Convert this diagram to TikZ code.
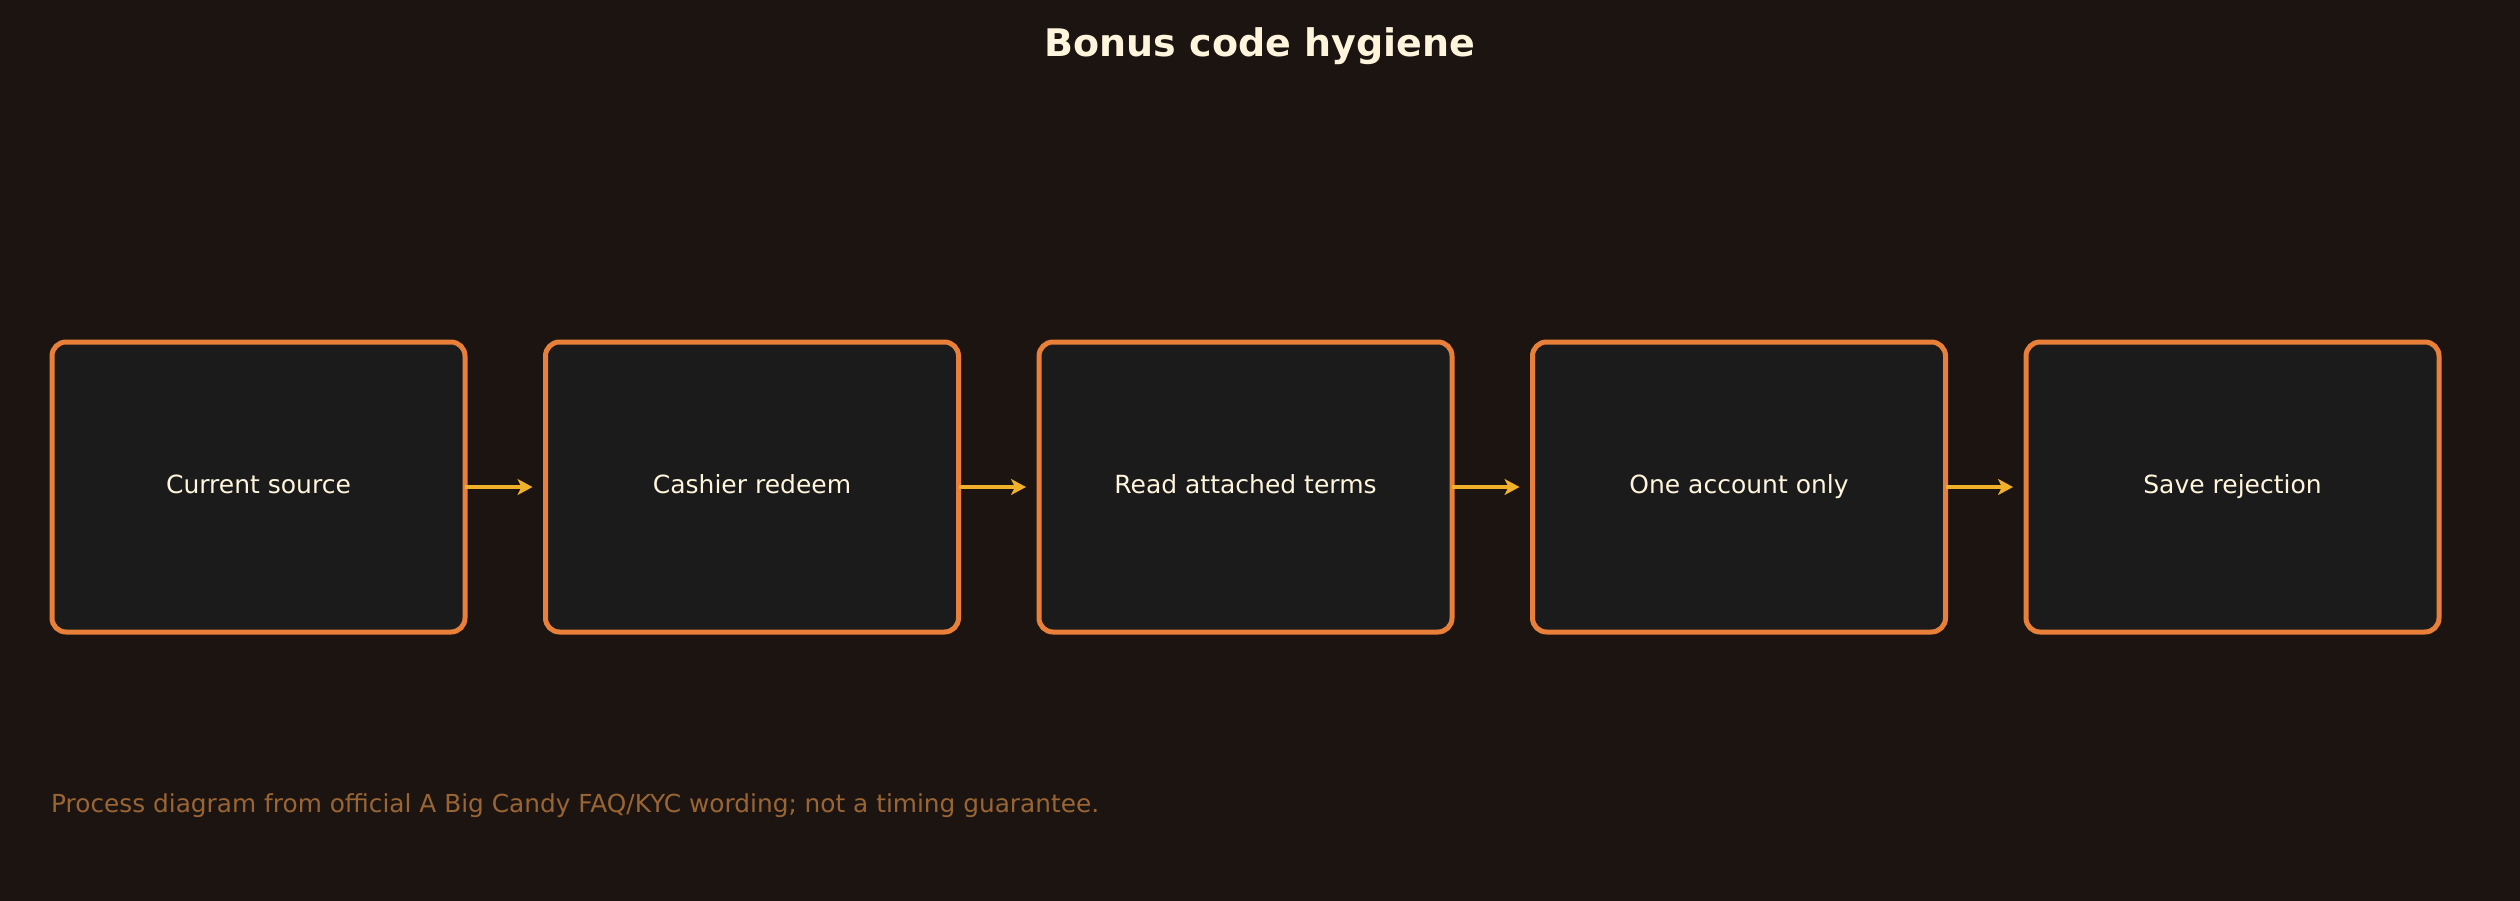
\documentclass[tikz,border=0pt]{standalone}
\usepackage{fontspec}
\setmainfont{DejaVu Sans}
\usetikzlibrary{arrows.meta,positioning}
\definecolor{bgbrown}{RGB}{28,20,16}
\definecolor{boxfill}{RGB}{27,27,27}
\definecolor{boxline}{RGB}{232,128,58}
\definecolor{arrowgold}{RGB}{240,176,42}
\definecolor{cream}{RGB}{255,245,220}
\definecolor{notebrown}{RGB}{154,101,53}

\begin{document}
\begin{tikzpicture}[x=1pt,y=-1pt,>={Stealth[length=15pt,width=16pt,inset=4pt]},
    stepbox/.style={draw=boxline,fill=boxfill,line width=5pt,rounded corners=14pt,
        minimum width=413pt,minimum height=290pt,outer sep=0pt,text=cream,
        text height=18pt,text depth=5pt,font=\fontsize{25}{30}\selectfont},
    flow/.style={->,draw=arrowgold,line width=4.5pt,shorten >=13pt},
    node distance=80.5pt]
            \useasboundingbox (0,0) rectangle (2520,900);
            \fill[bgbrown] (-10,-10) rectangle (2530,910);
            % Title
            \node[text=cream,font=\fontsize{38}{45}\selectfont\bfseries] (title) at (1260,46) {Bonus code hygiene};
            % Nodes
            \node[stepbox] (source) at (258.5,487) {Current source};
            \node[stepbox,right=of source] (cashier) {Cashier redeem};
            \node[stepbox,right=of cashier] (terms) {Read attached terms};
            \node[stepbox,right=of terms] (account) {One account only};
            \node[stepbox,right=of account] (reject) {Save rejection};
            % Edges
            \draw[flow] (source) -- (cashier);
            \draw[flow] (cashier) -- (terms);
            \draw[flow] (terms) -- (account);
            \draw[flow] (account) -- (reject);
            % Footnote
            \node[anchor=west,inner sep=0pt,text=notebrown,font=\fontsize{24.8}{30}\selectfont] (note) at (51,806)
                {Process diagram from official A Big Candy FAQ/KYC wording; not a timing guarantee.};
        \end{tikzpicture}
\end{document}
